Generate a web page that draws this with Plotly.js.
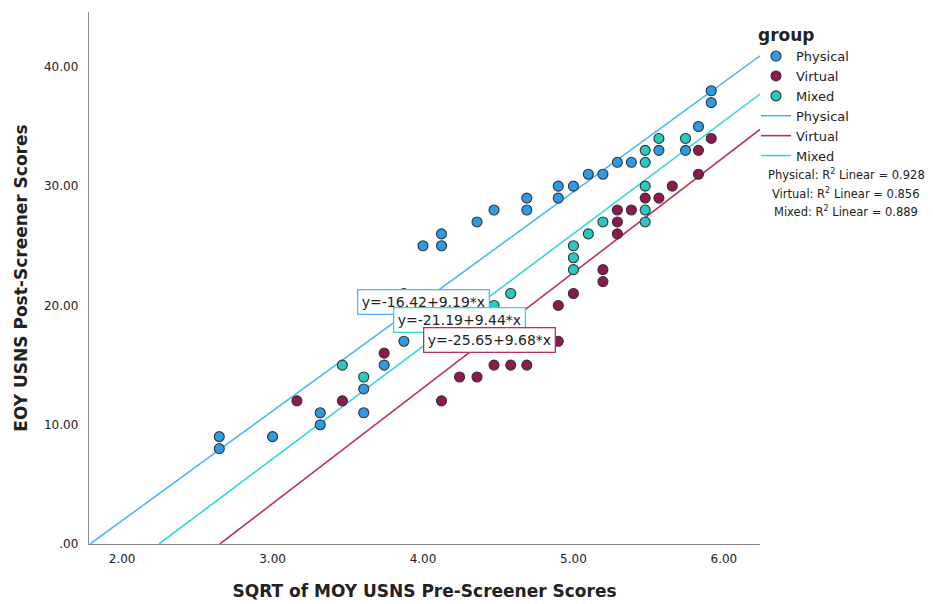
<!DOCTYPE html>
<html>
<head>
<meta charset="utf-8">
<script src="https://cdn.plot.ly/plotly-3.0.1.min.js"></script>
<style>html,body{margin:0;padding:0;background:#fff;}#chart{width:933px;height:604px;}</style>
</head>
<body>
<div id="chart"></div>
<script>
// SQRT of MOY pre-screener scores (x) and EOY post-screener scores (y), per group
const physicalX = [2.646, 2.646, 3.000, 3.317, 3.317, 3.606, 3.606, 3.742, 3.873, 3.873, 4.000, 4.123, 4.123, 4.359, 4.472, 4.690, 4.690, 4.899, 4.899, 5.000, 5.099, 5.196, 5.292, 5.385, 5.568, 5.745, 5.831, 5.916, 5.916];
const physicalY = [9, 8, 9, 11, 10, 13, 11, 15, 17, 21, 25, 25, 26, 27, 28, 29, 28, 30, 29, 30, 31, 31, 32, 32, 33, 33, 35, 38, 37];

const virtualX = [3.162, 3.464, 3.742, 4.123, 4.243, 4.359, 4.472, 4.583, 4.690, 4.899, 4.899, 5.000, 5.196, 5.196, 5.292, 5.292, 5.292, 5.385, 5.477, 5.568, 5.657, 5.831, 5.831, 5.916];
const virtualY = [12, 12, 16, 12, 14, 14, 15, 15, 15, 20, 17, 21, 23, 22, 28, 27, 26, 28, 29, 29, 30, 33, 31, 34];

const mixedX = [3.464, 3.606, 4.472, 4.583, 5.000, 5.000, 5.000, 5.099, 5.196, 5.477, 5.477, 5.477, 5.477, 5.477, 5.568, 5.745];
const mixedY = [15, 14, 20, 21, 25, 24, 23, 26, 27, 33, 32, 30, 28, 27, 34, 34];

// Linear fits (intercept, slope) and R squared
const groups = ['Physical', 'Virtual', 'Mixed'];
const fitIntercepts = [-16.42, -25.65, -21.19];
const fitSlopes = [9.19, 9.68, 9.44];
const rSquared = ['0.928', '0.856', '0.889'];
const fitLabels = ['y=-16.42+9.19*x', 'y=-25.65+9.68*x', 'y=-21.19+9.44*x'];

const yTickVals = [0, 10, 20, 30, 40];
const yTickText = ['.00', '10.00', '20.00', '30.00', '40.00'];
const xTickVals = [2, 3, 4, 5, 6];
const xTickText = ['2.00', '3.00', '4.00', '5.00', '6.00'];

const markerColors = ['#2b9be6', '#8e1850', '#27c9c3'];
const lineColors = ['#4fb6f7', '#b8335f', '#38d6d2'];
const xMin = 1.78, xMax = 6.24;

const FONT = 'DejaVu Sans, Verdana, sans-serif';
const traces = [];
// fit lines (drawn first so markers sit on top)
for (let i = 0; i < 3; i++) {
  const b = fitIntercepts[i], m = fitSlopes[i];
  const x0 = Math.max(xMin, -b / m);
  traces.push({
    x: [x0, xMax], y: [b + m * x0, b + m * xMax],
    mode: 'lines', type: 'scatter', name: groups[i],
    line: {color: lineColors[i], width: 1.6},
    legendrank: 4 + i, hoverinfo: 'skip', cliponaxis: true
  });
}
const xs = [physicalX, virtualX, mixedX];
const ys = [physicalY, virtualY, mixedY];
for (let i = 0; i < 3; i++) {
  traces.push({
    x: xs[i], y: ys[i], mode: 'markers', type: 'scatter', name: groups[i],
    marker: {color: markerColors[i], size: 10, line: {color: '#333', width: 1.1}},
    legendrank: 1 + i, cliponaxis: false
  });
}

const W = 933, H = 604, L = 89, R = 173, T = 12, B = 60;
const pw = W - L - R, ph = H - T - B;

const boxPos = [[4.0, 20.33], [4.44, 17.07], [4.245, 18.79]];
const annotations = [];
// draw order: physical, mixed, virtual -> physical on bottom
[0, 2, 1].forEach(function (i) {
  annotations.push({
    x: boxPos[i][0], y: boxPos[i][1], xref: 'x', yref: 'y',
    xanchor: 'center', yanchor: 'middle',
    text: fitLabels[i], showarrow: false,
    font: {family: FONT, size: 14, color: '#222'},
    bgcolor: '#ffffff', bordercolor: lineColors[i], borderwidth: 1.3, borderpad: 3.5
  });
});
const r2Y = [175, 193.5, 211.5];
groups.forEach(function (g, i) {
  annotations.push({
    x: (846 - L) / pw, y: (H - B - r2Y[i]) / ph, xref: 'paper', yref: 'paper',
    xanchor: 'center', yanchor: 'middle', showarrow: false,
    text: g + ': R<sup>2</sup> Linear = ' + rSquared[i],
    font: {family: FONT, size: 11.5, color: '#222'}
  });
});

const layout = {
  width: W, height: H,
  margin: {l: L, r: R, t: T, b: B},
  paper_bgcolor: '#fff', plot_bgcolor: '#fff',
  font: {family: FONT, color: '#222'},
  showlegend: true,
  legend: {
    x: (756 - L) / pw, y: (H - B - 19) / ph, xanchor: 'left', yanchor: 'top',
    title: {text: '<b>group</b>', font: {family: FONT, size: 17, color: '#222'}},
    font: {family: FONT, size: 13, color: '#222'},
    bgcolor: 'rgba(0,0,0,0)', tracegroupgap: 0
  },
  xaxis: {
    range: [xMin, xMax], tickvals: xTickVals, ticktext: xTickText,
    showgrid: false, zeroline: false, showline: true, linecolor: '#8a8a8a', linewidth: 1.3,
    ticks: '', ticklabelstandoff: 3,
    tickfont: {family: FONT, size: 12, color: '#222'},
    title: {text: '<b>SQRT of MOY USNS Pre-Screener Scores</b>', font: {family: FONT, size: 17, color: '#222'}, standoff: 20}
  },
  yaxis: {
    range: [0, 44.6], tickvals: yTickVals, ticktext: yTickText,
    showgrid: false, zeroline: false, showline: true, linecolor: '#8a8a8a', linewidth: 1.3,
    ticks: '', ticklabelstandoff: 7,
    tickfont: {family: FONT, size: 12, color: '#222'},
    title: {text: '<b>EOY USNS Post-Screener Scores</b>', font: {family: FONT, size: 17, color: '#222'}, standoff: 12}
  },
  annotations: annotations
};

Plotly.newPlot('chart', traces, layout, {displayModeBar: false, staticPlot: true});
</script>
</body>
</html>
